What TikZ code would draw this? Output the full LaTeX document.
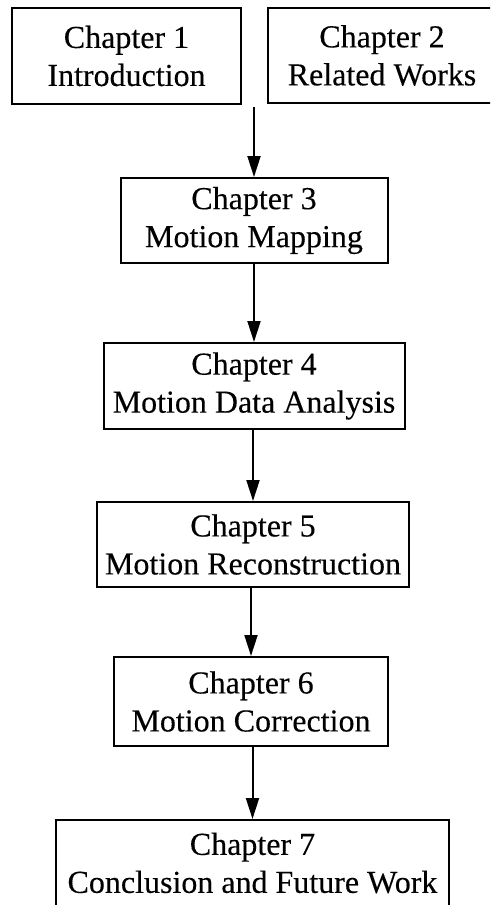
\documentclass[tikz,border=0pt]{standalone}
\usepackage{fontspec}
\setmainfont{Liberation Serif}
\newfontfamily\chapfont[FakeBold=0.25]{Liberation Serif}
\usetikzlibrary{arrows.meta}
\begin{document}
\begin{tikzpicture}[x=1pt,y=-1pt,
  chapbox/.style={draw=black, line width=2pt, fill=white, inner sep=0pt, align=center,
    font=\chapfont\fontsize{32}{38}\selectfont, text=black},
  flow/.style={draw=black, line width=2pt, -{Triangle[length=21pt,width=13pt]}}]
\useasboundingbox (0,0) rectangle (490,905);
\clip (0,0) rectangle (490,905);
\fill[white] (0,0) rectangle (490,905);
\node[chapbox, minimum width=229pt, minimum height=96pt] (c1) at (126.5,56) {Chapter 1\\Introduction\hspace{10pt}};
\node[chapbox, minimum width=228pt, minimum height=95pt] (c2) at (382,55.5) {Chapter 2\hspace{6pt}\\Related Works};
\coordinate (split) at (254,107);
\node[chapbox, minimum width=267pt, minimum height=85pt] (c3) at (254,220.5) {Chapter 3\\Motion Mapping};
\node[chapbox, minimum width=301pt, minimum height=86pt] (c4) at (254,386) {Chapter 4\\Motion Data Analysis};
\node[chapbox, minimum width=312pt, minimum height=85pt] (c5) at (253,544.5) {Chapter 5\\Motion Reconstruction};
\node[chapbox, minimum width=274pt, minimum height=89pt] (c6) at (251,701.5) {Chapter 6\\Motion Correction};
\node[chapbox, minimum width=393pt, minimum height=86pt] (c7) at (252.5,863) {Chapter 7\\Conclusion and Future Work};
\draw[flow] (split) -- (split |- c3.north);
\draw[flow] (c3.south -| split) -- (split |- c4.north);
\draw[flow] (c4.south -| c5.north) -- (c5.north);
\draw[flow] (c5.south -| c6.north) -- (c6.north);
\draw[flow] (c6.south -| c7.north) -- (c7.north);
\end{tikzpicture}
\end{document}
